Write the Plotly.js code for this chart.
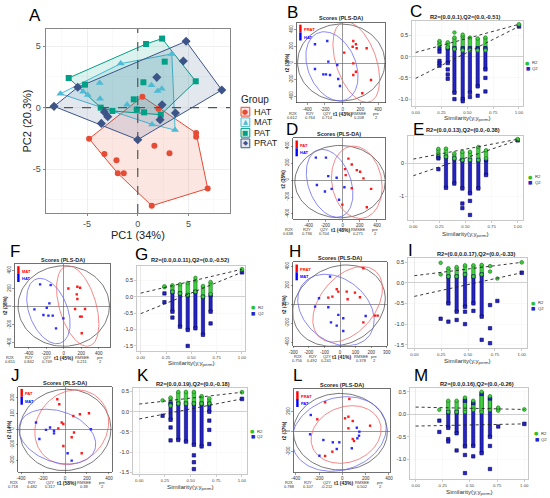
<!DOCTYPE html>
<html><head><meta charset="utf-8">
<script src="https://cdn.plot.ly/plotly-3.0.1.min.js"></script>
<style>html,body{margin:0;padding:0;background:#fff}#chart{width:550px;height:498px}</style>
</head><body><div id="chart"></div>
<script>
// ================= DATA =================
// Panel A – PCA scores
const groupNames = ['HAT','MAT','PAT','PRAT'];
const hatX  = [0.46,-4.8,-3.29,-2.1,-1.97,-1.38,1.64,3.13,5.76,5.76,6.9,1.38,2.04];
const hatY  = [0.9,-2.53,-3.78,-4.29,-5.35,-5.35,-3.1,-3.72,-2.07,-2.36,-6.58,-7.99,-0.08];
const matX  = [-7.63,-5.39,-4.93,-3.75,-3.72,-1.68,-1.05,1.35,1.97,2.37,3.36,3.68,1.41,-0.07];
const matY  = [1.14,1.3,1.03,2.01,0.73,3.59,0.24,1.82,1.36,1.55,4.38,-1.82,-1.36,-0.05];
const patX  = [-6.81,-5.2,-3.65,-2.5,-0.39,-0.1,0.63,0.56,0.82,2.4,2.66,5.72,2.27];
const patY  = [2.42,1.88,0,-0.27,0.68,-0.16,-0.38,2.07,5.19,5.63,3.75,2.15,-0.57];
const pratX = [-8.26,-5.92,-3.59,-3.29,-2.96,0,1.88,2.4,2.2,3.72,4.5,4.77,8.29];
const pratY = [0.11,1.66,-1.28,-0.35,-0.73,-2.61,2.47,0.24,-0.98,-0.43,3.8,5.41,1.44];
const pcaTicks = [-5,0,5];

// PLS-DA score panels (red group / blue group), ellipses [cx,cy,topDx,topDy,halfChord]
const bRedX=[120,150,113,158,271,18,120,150,120,320,222], bRedY=[263,224,195,176,176,124,-4,-104,-144,-204,-363];
const bBlueX=[-313,-174,-162,-61,-313,-219,-189,-143,-50,-31], bBlueY=[224,263,16,-24,-72,-136,-136,-144,-192,-275];
const bEll=[[-16,6,0,461,494],[154,12,-116,483,237],[-121,-40,-87,414,282]];
const bStats=['0.612','0.764','0.714','0.208','2'], bPct=[43,38], bGroups=['PRAT','HAT'];

const dRedX=[67,106,27,165,204,243,35,106,333,-4,282], dRedY=[252,182,128,116,97,19,58,-97,-104,-290,-321];
const dBlueX=[-314,-196,-169,-71,-302,-208,-129,-43,20], dBlueY=[263,263,46,27,-58,-135,-104,-232,-85];
const dEll=[[-31,-19,0,426,529],[165,-27,-39,426,294],[-153,-39,-86,399,259]];
const dStats=['0.638','0.736','0.704','0.271','2'], dPct=[48,35], dGroups=['PAT','HAT'];

const fRedX=[53,156,187,149,156,130,244,187,206,206], fRedY=[202,221,210,136,85,-26,-26,-110,-110,-294];
const fBlueX=[-270,-149,-164,-194,-335,-232,-175,-126,-4,-88], fBlueY=[247,239,37,-11,-29,-92,-99,-99,-129,-239];
const fEll=[[0,7,0,445,522],[160,7,-107,445,217],[-175,-48,-95,361,229]];
const fStats=['0.651','0.842','0.749','0.211','2'], fPct=[45,38], fGroups=['MAT','HAT'];

const hRedX=[150,-21,-11,43,96,128,-75,-49,49,225,242,150], hRedY=[379,158,133,133,123,74,70,81,53,-119,-119,-190];
const hBlueX=[-64,-135,-160,-75,-11,21,165,-58,-21,21], hBlueY=[291,63,-25,-32,-112,-147,-123,-190,-225,-281];
const hEll=[[-6,-14,49,428,293],[49,0,94,397,203],[-26,-60,-71,376,235]];
const hStats=['0.756','0.492','0.241','0.378','2'], hPct=[41,35], hGroups=['PRAT','MAT'];

const jRedX=[-70,-52,76,136,218,-30,-15,-61,82,61,-15,152], jRedY=[192,160,85,96,102,43,34,6,-21,-51,-107,-153];
const jBlueX=[-264,-173,-136,-100,-100,-233,236,24,61], jBlueY=[43,-4,11,-9,-26,-62,0,-153,-200];
const jEll=[[3,-4,12,260,415],[61,13,45,239,333],[-70,-47,-97,175,336]];
const jStats=['0.718','0.482','0.317','0.38','2'], jPct=[58,14], jGroups=['PAT','MAT'];

const lRedX=[-148,60,-215,23,52,89,238,52,89,100,-86,-148], lRedY=[294,327,124,134,150,107,60,34,-73,-93,-200,-243];
const lBlueX=[-271,124,146,143,129,-277,-163,-82,-26,-48,-197,81], lBlueY=[167,40,0,-40,-66,-26,-83,-106,-106,-173,-240,-166];
const lEll=[[-17,0,0,383,403],[32,-28,52,288,296],[-28,-23,66,373,399]];
const lStats=['0.788','0.107','-0.212','0.502','2'], lPct=[43,37], lGroups=['PRAT','PAT'];

// Permutation panels
const cSim=[0.23,0.31,0.375,0.455,0.525,0.6,0.675];
const cR2Lo=[0.28,0.22,0.18,0.15,0.15,0.15,0.15], cR2Hi=[0.37,0.34,0.45,0.48,0.45,0.43,0.45];
const cR2ExX=[0.375,0.455], cR2ExY=[0.57,0.52];
const cQ2Lo=[null,-0.15,-0.85,-1.0,-0.85,-0.7,-0.3], cQ2Hi=[null,0.2,0.2,0.2,0.2,0.2,0.2];
const cQ2ExX=[0.23,0.23,0.23,0.23,0.23,0.31,0.31,0.31,0.375,0.455,0.525,0.6,0.675,0.675];
const cQ2ExY=[0.2,0.12,-0.1,-0.16,-0.21,-0.3,-0.42,-0.52,-1.0,-1.05,-0.95,-0.92,-0.5,-0.82];
const cFinal=[0.764,0.714], cInt=[0.1,-0.51];

const eSim=[0.24,0.313,0.393,0.47,0.543,0.623,0.697];
const eR2Lo=[0.28,0.2,0.15,0.1,0.1,0.1,0.15], eR2Hi=[0.44,0.45,0.3,0.35,0.35,0.5,0.4];
const eR2ExX=[], eR2ExY=[];
const eQ2Lo=[null,-0.75,-0.62,-0.77,-0.92,-0.77,-0.36], eQ2Hi=[null,0.2,0.15,0.1,0.1,0.1,0.1];
const eQ2ExX=[0.24,0.24,0.24,0.47,0.47,0.543,0.543], eQ2ExY=[0.2,0.15,-0.18,-1.23,-1.37,-1.15,-1.58];
const eFinal=[0.736,0.704], eInt=[0.13,-0.38];

const gSim=[0.234,0.313,0.388,0.464,0.54,0.615,0.69];
const gR2Lo=[0.29,0.15,0.1,0.05,0.15,0.0,0.08], gR2Hi=[0.32,0.35,0.38,0.42,0.5,0.33,0.45];
const gR2ExX=[0.54], gR2ExY=[0.58];
const gQ2Lo=[null,-0.46,-0.92,-1.02,-0.97,-1.17,-0.46], gQ2Hi=[null,0.15,0.1,0.05,0.15,0.0,0.05];
const gQ2ExX=[0.234,0.234,0.313,0.464,0.69], gQ2ExY=[0.1,-0.17,-0.64,-1.51,-0.82];
const gFinal=[0.842,0.749], gInt=[0.11,-0.52];

const iSim=[0.245,0.317,0.394,0.472,0.55,0.627,0.705,0.773];
const iR2Lo=[null,0.15,0.15,0.2,0.15,0.2,null,null], iR2Hi=[null,0.35,0.38,0.42,0.42,0.43,null,null];
const iR2ExX=[0.245,0.245,0.705,0.705,0.773], iR2ExY=[0.48,0.2,0.4,0.27,0.1];
const iQ2Lo=[null,-0.5,-0.7,-0.58,-0.5,-0.82,null,null], iQ2Hi=[null,0.15,0.15,0.2,0.15,0.2,null,null];
const iQ2ExX=[0.245,0.317,0.394,0.472,0.472,0.55,0.627,0.705,0.705,0.705,0.773];
const iQ2ExY=[-0.87,-0.94,-0.9,-0.7,-1.0,-0.68,-1.38,-0.54,-1.1,-1.46,-0.44];
const iFinal=[0.492,0.241], iInt=[0.17,-0.33];

const kSim=[0.227,0.305,0.38,0.455,0.532,0.607,0.682];
const kR2Lo=[null,0.15,0.2,0.2,0.2,0.2,0.2], kR2Hi=[null,0.35,0.49,0.49,0.49,0.385,0.33];
const kR2ExX=[0.227], kR2ExY=[0.28];
const kQ2Lo=[null,-0.2,-0.7,-0.74,-0.82,-0.86,0.0], kQ2Hi=[null,0.2,0.2,0.2,0.2,0.2,0.2];
const kQ2ExX=[0.227,0.305,0.305,0.532,0.532,0.532,0.682,0.682,0.682], kQ2ExY=[-0.1,-0.39,-0.71,-1.08,-1.25,-1.42,-0.22,-0.45,-0.8];
const kFinal=[0.482,0.317], kInt=[0.19,-0.18];

const mSim=[0.218,0.3,0.377,0.454,0.53,0.607,0.684,0.76];
const mR2Lo=[null,0.05,0.05,0.05,0.1,0.05,0.1,0.08], mR2Hi=[null,0.3,0.3,0.37,0.3,0.5,0.4,0.15];
const mR2ExX=[0.218], mR2ExY=[0.1];
const mQ2Lo=[null,-0.3,-0.42,-0.71,-0.7,-0.86,-0.5,null], mQ2Hi=[null,0.05,0.05,0.3,0.25,0.45,0.35,null];
const mQ2ExX=[0.218,0.218,0.3,0.3,0.377,0.454,0.454,0.53,0.684,0.684,0.76], mQ2ExY=[-0.14,-0.39,-0.55,-0.6,-0.8,-0.9,-1.3,-0.93,-0.7,-1.21,-0.27];
const mFinal=[0.107,-0.212], mInt=[0.16,-0.26];

// ================= BUILD =================
const W=550,H=498;
const F='Liberation Sans, Arial, Helvetica, sans-serif';
const layout={width:W,height:H,margin:{l:0,r:0,t:0,b:0},paper_bgcolor:'#fff',plot_bgcolor:'#fff',
  showlegend:false,barmode:'overlay',font:{family:F,size:6,color:'#222'}};
const data=[],shapes=[],annotations=[];
let nAx=0;
function addAxes(box,xr,yr,xo,yo){
  nAx++; const s=nAx===1?'':String(nAx);
  layout['xaxis'+s]=Object.assign({domain:[box[0]/W,box[1]/W],range:xr,anchor:'y'+s,fixedrange:true},xo);
  layout['yaxis'+s]=Object.assign({domain:[1-box[3]/H,1-box[2]/H],range:yr,anchor:'x'+s,fixedrange:true},yo);
  return {x:'x'+s,y:'y'+s};
}
function T(x,y,text,size,o){
  o=o||{};
  const font=Object.assign({family:F,size:size,color:'#222'},o.font||{});
  if(o.bold){font.weight='bold';}
  const a=Object.assign({xref:'paper',yref:'paper',x:x/W,y:1-y/H,text:text,showarrow:false,
    xanchor:'center',yanchor:'middle',borderpad:0},o);
  delete a.bold; a.font=font;
  annotations.push(a);
}
function letter(x,y,t){T(x,y,t,17,{font:{color:'#000'}});}

// ---------- Panel A ----------
const COLS={HAT:'#E64B35',MAT:'#4DBBD5',PAT:'#00A087',PRAT:'#3C5488'};
const FILLS={HAT:'rgba(230,75,53,0.14)',MAT:'rgba(77,187,213,0.14)',PAT:'rgba(0,160,135,0.14)',PRAT:'rgba(60,84,136,0.14)'};
const SYMS={HAT:'circle',MAT:'triangle-up',PAT:'square',PRAT:'diamond'};
const GLYPH={HAT:'●',MAT:'▲',PAT:'■',PRAT:'◆'};
function hull(xs,ys){
  const p=xs.map((x,i)=>[x,ys[i]]).sort((a,b)=>a[0]-b[0]||a[1]-b[1]);
  const cr=(o,a,b)=>(a[0]-o[0])*(b[1]-o[1])-(a[1]-o[1])*(b[0]-o[0]);
  const lo=[],up=[];
  for(const q of p){while(lo.length>=2&&cr(lo[lo.length-2],lo[lo.length-1],q)<=0)lo.pop();lo.push(q);}
  for(const q of p.slice().reverse()){while(up.length>=2&&cr(up[up.length-2],up[up.length-1],q)<=0)up.pop();up.push(q);}
  lo.pop();up.pop();const h=lo.concat(up);h.push(h[0]);return h;
}
const boxA=[46,230,29,213];
const axA=addAxes(boxA,[-9.05,9.1],[-8.58,6.41],
  {tickmode:'array',tickvals:pcaTicks,ticktext:pcaTicks.map(String),showgrid:true,gridcolor:'#ebebeb',gridwidth:0.8,
   minor:{tickmode:'array',tickvals:[-7.5,-2.5,2.5,7.5],showgrid:true,gridcolor:'#f5f5f5',gridwidth:0.6},
   zeroline:false,showline:true,mirror:true,linecolor:'#7a7a7a',linewidth:0.9,ticks:'outside',ticklen:2.5,tickwidth:0.8,tickcolor:'#666',
   tickfont:{family:F,size:9,color:'#4d4d4d'}},
  {tickmode:'array',tickvals:pcaTicks,ticktext:pcaTicks.map(String),showgrid:true,gridcolor:'#ebebeb',gridwidth:0.8,
   minor:{tickmode:'array',tickvals:[-7.5,-2.5,2.5],showgrid:true,gridcolor:'#f5f5f5',gridwidth:0.6},
   zeroline:false,showline:true,mirror:true,linecolor:'#7a7a7a',linewidth:0.9,ticks:'outside',ticklen:2.5,tickwidth:0.8,tickcolor:'#666',
   tickfont:{family:F,size:9,color:'#4d4d4d'}});
const pcaSets={HAT:[hatX,hatY],MAT:[matX,matY],PAT:[patX,patY],PRAT:[pratX,pratY]};
groupNames.forEach(g=>{
  const h=hull(pcaSets[g][0],pcaSets[g][1]);
  data.push({type:'scatter',mode:'lines',x:h.map(p=>p[0]),y:h.map(p=>p[1]),fill:'toself',fillcolor:FILLS[g],
    line:{color:COLS[g],width:1},xaxis:axA.x,yaxis:axA.y,hoverinfo:'skip'});
});
shapes.push({type:'line',xref:axA.x,yref:axA.y+' domain',x0:0,x1:0,y0:0,y1:1,line:{color:'#555',width:1.2,dash:'dash'}});
shapes.push({type:'line',xref:axA.x+' domain',yref:axA.y,x0:0,x1:1,y0:0,y1:0,line:{color:'#555',width:1.2,dash:'dash'}});
groupNames.forEach(g=>{
  data.push({type:'scatter',mode:'markers',x:pcaSets[g][0],y:pcaSets[g][1],xaxis:axA.x,yaxis:axA.y,
    marker:{color:COLS[g],symbol:SYMS[g],size:g==='HAT'||g==='PAT'?6:7,line:{width:0}},name:g});
});
letter(35,15,'A');
T(138,235,'PC1 (34%)',11);
T(26.5,121,'PC2 (20.3%)',11,{textangle:-90});
T(240,99,'Group',10,{xanchor:'left'});
groupNames.forEach((g,i)=>{
  const cy=111.7+i*10.55;
  shapes.push({type:'rect',xref:'paper',yref:'paper',x0:241/W,x1:249.8/W,y0:1-(cy+4.4)/H,y1:1-(cy-4.4)/H,
    fillcolor:FILLS[g],line:{color:COLS[g],width:1}});
  T(245.4,cy,GLYPH[g],g==='HAT'?7:6.5,{font:{family:'DejaVu Sans',color:COLS[g]}});
  T(252.5,cy,g,9,{xanchor:'left'});
});

// ---------- PLS-DA score panels ----------
function ellipse(ax,e,color){
  const xs=[],ys=[];
  for(let i=0;i<=120;i++){const t=2*Math.PI*i/120;xs.push(e[0]+e[2]*Math.cos(t)+e[4]*Math.sin(t));ys.push(e[1]+e[3]*Math.cos(t));}
  data.push({type:'scatter',mode:'lines',x:xs,y:ys,xaxis:ax.x,yaxis:ax.y,line:{color:color,width:0.8},hoverinfo:'skip'});
}
function pls(p){
  const axo={showline:true,mirror:true,linecolor:'#333',linewidth:0.7,showgrid:false,zeroline:true,zerolinecolor:'#555',zerolinewidth:0.6,
    ticks:'outside',ticklen:2,tickwidth:0.5,tickcolor:'#333',tickfont:{family:F,size:4.5,color:'#333'},tickmode:'array'};
  const ax=addAxes(p.box,p.xr,p.yr,Object.assign({},axo,{tickvals:p.xt,ticktext:p.xt.map(String)}),
    Object.assign({},axo,{tickvals:p.yt,ticktext:p.yt.map(String),tickangle:-90}));
  ellipse(ax,p.ell[0],'#555');
  ellipse(ax,p.ell[1],'#f36a6a');
  ellipse(ax,p.ell[2],'#6a6af3');
  data.push({type:'scatter',mode:'markers',x:p.rx,y:p.ry,xaxis:ax.x,yaxis:ax.y,marker:{symbol:'square',size:2.4,color:'#ff1a1a'}});
  data.push({type:'scatter',mode:'markers',x:p.bx,y:p.by,xaxis:ax.x,yaxis:ax.y,marker:{symbol:'square',size:2.4,color:'#2a2aff'}});
  const b=p.box, wd=b[1]-b[0];
  shapes.push({type:'rect',xref:'paper',yref:'paper',x0:(b[0]+2.2)/W,x1:(b[0]+4.6)/W,y0:1-(b[2]+10)/H,y1:1-(b[2]+2.2)/H,fillcolor:'#ff0000',line:{width:0}});
  shapes.push({type:'rect',xref:'paper',yref:'paper',x0:(b[0]+2.2)/W,x1:(b[0]+4.6)/W,y0:1-(b[2]+18)/H,y1:1-(b[2]+10)/H,fillcolor:'#0000ff',line:{width:0}});
  T(b[0]+5.5,b[2]+7,p.groups[0],4,{xanchor:'left',bold:true,font:{color:'#ff0000'}});
  T(b[0]+5.5,b[2]+14.5,p.groups[1],4,{xanchor:'left',bold:true,font:{color:'#0000ff'}});
  T((b[0]+b[1])/2,b[2]-4.2,'Scores (PLS-DA)',5.5,{bold:true});
  T(b[0]-9.5,(b[2]+b[3])/2,'t2 ('+p.pct[1]+'%)',4.8,{textangle:-90,bold:true});
  const fr=p.fr||[-0.05,0.15,0.34,0.52,0.71,0.9];
  const names=['R2X','R2Y','Q2Y',null,'RMSEE','pre'];
  const vals=[p.stats[0],p.stats[1],p.stats[2],null,p.stats[3],p.stats[4]];
  names.forEach((n,i)=>{
    const x=b[0]+fr[i]*wd;
    if(n===null){T(x,b[3]+11.2,'t1 ('+p.pct[0]+'%)',5,{bold:true});}
    else{T(x,b[3]+10.8,n,4,{font:{color:'#333'}});T(x,b[3]+14.8,vals[i],4,{font:{color:'#333'}});}
  });
  letter(p.letter[0],p.letter[1],p.letter[2]);
}
const t400=[-400,-200,0,200,400];
pls({box:[297,385.5,22.5,102.5],xr:[-516,484],yr:[-473,485],xt:t400,yt:t400,rx:bRedX,ry:bRedY,bx:bBlueX,by:bBlueY,ell:bEll,stats:bStats,pct:bPct,groups:bGroups,letter:[292,13,'B']});
pls({box:[293.3,385,138.3,219],xr:[-578,495],yr:[-459,491],xt:t400,yt:t400,rx:dRedX,ry:dRedY,bx:dBlueX,by:dBlueY,ell:dEll,stats:dStats,pct:dPct,groups:dGroups,letter:[292,129.5,'D']});
pls({box:[15,110,264,346.7],xr:[-557,529],yr:[-442,472],xt:t400,yt:t400,rx:fRedX,ry:fRedY,bx:fBlueX,by:fBlueY,ell:fEll,stats:fStats,pct:fPct,groups:fGroups,letter:[15,252,'F']});
pls({box:[293.3,386.7,262.3,345.7],xr:[-300,300],yr:[-436,442],xt:[-300,-200,-100,0,100,200,300],yt:t400,rx:hRedX,ry:hRedY,bx:hBlueX,by:hBlueY,ell:hEll,stats:hStats,pct:hPct,groups:hGroups,fr:[0.05,0.21,0.36,0.52,0.725,0.87],letter:[295,252,'H']});
pls({box:[18.3,111.7,386.7,471.7],xr:[-425,425],yr:[-271,272],xt:t400,yt:[-200,-100,0,100,200],rx:jRedX,ry:jRedY,bx:jBlueX,by:jBlueY,ell:jEll,stats:jStats,pct:jPct,groups:jGroups,letter:[15,375,'J']});
pls({box:[294,390,389,472],xr:[-415,409],yr:[-403,427],xt:t400,yt:[-200,0,200],rx:lRedX,ry:lRedY,bx:lBlueX,by:lBlueY,ell:lEll,stats:lStats,pct:lPct,groups:lGroups,letter:[297,375,'L']});

// ---------- Permutation panels ----------
const GREEN='#3fd23f',DGREEN='#1b6e1b',BLUE='#2424c8',NAVY='#00005a';
function perm(p){
  const b=p.box, ppu=(b[1]-b[0])/(p.xr[1]-p.xr[0]);
  const axo={showline:true,mirror:true,linecolor:'#b0b0b0',linewidth:0.7,showgrid:true,gridcolor:'#f3f3f3',gridwidth:0.5,
    ticks:'outside',ticklen:2,tickwidth:0.5,tickcolor:'#999',tickmode:'array'};
  const xt=[0,0.25,0.5,0.75,1];
  const ax=addAxes(b,p.xr,p.yr,
    Object.assign({},axo,{tickvals:xt,ticktext:xt.map(v=>v.toFixed(2)),zeroline:true,zerolinecolor:'#dcdcdc',zerolinewidth:0.6,tickfont:{family:F,size:4.3,color:'#444'}}),
    Object.assign({},axo,{tickvals:p.yt,ticktext:p.ytt,zeroline:true,zerolinecolor:'#c4c4c4',zerolinewidth:0.8,tickfont:{family:F,size:5.6,color:'#333'}}));
  function column(lo,hi,exX,exY,fill,edge,sym,size,wpx){
    const bx=[],bb=[],bh=[],ex=[],ey=[];
    p.sim.forEach((x,i)=>{if(lo[i]!=null){bx.push(x);bb.push(lo[i]);bh.push(hi[i]-lo[i]);ex.push(x,x);ey.push(lo[i],hi[i]);}});
    data.push({type:'bar',x:bx,y:bh,base:bb,width:wpx/ppu,xaxis:ax.x,yaxis:ax.y,marker:{color:fill,line:{color:edge,width:0.6}},hoverinfo:'skip'});
    data.push({type:'scatter',mode:'markers',x:ex.concat(exX),y:ey.concat(exY),xaxis:ax.x,yaxis:ax.y,
      marker:{symbol:sym,size:size,color:fill,line:{color:edge,width:0.6}}});
  }
  column(p.q2Lo,p.q2Hi,p.q2ExX,p.q2ExY,BLUE,NAVY,'square',3.4,3.2);
  column(p.r2Lo,p.r2Hi,p.r2ExX,p.r2ExY,GREEN,DGREEN,'circle',3.6,3.4);
  data.push({type:'scatter',mode:'markers',x:[1],y:[p.fin[1]],xaxis:ax.x,yaxis:ax.y,marker:{symbol:'square',size:3.6,color:BLUE,line:{color:NAVY,width:0.6}}});
  data.push({type:'scatter',mode:'markers',x:[1],y:[p.fin[0]],xaxis:ax.x,yaxis:ax.y,marker:{symbol:'circle',size:3.8,color:GREEN,line:{color:DGREEN,width:0.6}}});
  data.push({type:'scatter',mode:'lines',x:[0,1],y:[p.int[0],p.fin[0]],xaxis:ax.x,yaxis:ax.y,line:{color:'#222',width:0.9,dash:'dot'}});
  data.push({type:'scatter',mode:'lines',x:[0,1],y:[p.int[1],p.fin[1]],xaxis:ax.x,yaxis:ax.y,line:{color:'#222',width:0.9,dash:'dot'}});
  T(p.tx!=null?p.tx:(b[0]+b[1])/2,p.ty,p.title,5.7,{bold:true});
  T((b[0]+b[1])/2,p.xl+1.4,'Similarity(y,y<sub>perm</sub>)',6.2,{font:{color:'#333'}});
  T(p.leg[0],p.leg[1],'●',5,{font:{family:'DejaVu Sans',color:'#2fc02f'}});
  T(p.leg[0],p.leg[1]+5.8,'■',4.6,{font:{family:'DejaVu Sans',color:BLUE}});
  T(p.leg[0]+3.5,p.leg[1],'R2',4.2,{xanchor:'left',font:{color:'#333'}});
  T(p.leg[0]+3.5,p.leg[1]+5.8,'Q2',4.2,{xanchor:'left',font:{color:'#333'}});
  letter(p.letter[0],p.letter[1],p.letter[2]);
}
const yt5=[-1.5,-1,-0.5,0,0.5], yt4=[-1,-0.5,0,0.5];
perm({box:[412,523,21,106],xr:[-0.036,1.039],yr:[-1.163,0.842],yt:yt4,ytt:yt4.map(v=>v.toFixed(1)),sim:cSim,r2Lo:cR2Lo,r2Hi:cR2Hi,r2ExX:cR2ExX,r2ExY:cR2ExY,q2Lo:cQ2Lo,q2Hi:cQ2Hi,q2ExX:cQ2ExX,q2ExY:cQ2ExY,fin:cFinal,int:cInt,
  title:'R2=(0.0,0.1),Q2=(0.0,-0.51)',ty:17,tx:465,xl:116.7,leg:[527.7,62.7],letter:[416,12,'C']});
perm({box:[408,523,136,220],xr:[-0.051,1.051],yr:[-1.734,0.835],yt:[-1,0],ytt:['-1','0'],sim:eSim,r2Lo:eR2Lo,r2Hi:eR2Hi,r2ExX:eR2ExX,r2ExY:eR2ExY,q2Lo:eQ2Lo,q2Hi:eQ2Hi,q2ExX:eQ2ExX,q2ExY:eQ2ExY,fin:eFinal,int:eInt,
  title:'R2=(0.0,0.13),Q2=(0.0,-0.38)',ty:130,tx:463.3,xl:232.3,leg:[530,176.7],letter:[418,129.5,'E']});
perm({box:[137,245,266,351],xr:[-0.037,1.03],yr:[-1.666,0.942],yt:yt5,ytt:yt5.map(v=>v.toFixed(1)),sim:gSim,r2Lo:gR2Lo,r2Hi:gR2Hi,r2ExX:gR2ExX,r2ExY:gR2ExY,q2Lo:gQ2Lo,q2Hi:gQ2Hi,q2ExX:gQ2ExX,q2ExY:gQ2ExY,fin:gFinal,int:gInt,
  title:'R2=(0.0,0.0.11),Q2=(0.0,-0.52)',ty:260,tx:190,xl:361.7,leg:[253.3,307.3],letter:[141,254,'G']});
perm({box:[408,527,258,348],xr:[-0.059,1.049],yr:[-1.577,0.597],yt:yt5,ytt:yt5.map(v=>v.toFixed(1)),sim:iSim,r2Lo:iR2Lo,r2Hi:iR2Hi,r2ExX:iR2ExX,r2ExY:iR2ExY,q2Lo:iQ2Lo,q2Hi:iQ2Hi,q2ExX:iQ2ExX,q2ExY:iQ2ExY,fin:iFinal,int:iInt,
  title:'R2=(0.0,0.0.17),Q2=(0.0,-0.33)',ty:254.3,tx:476.7,xl:359.5,leg:[533.3,302.7],letter:[410,250,'I']});
perm({box:[133,247,388,474],xr:[-0.061,1.049],yr:[-1.542,0.587],yt:yt5,ytt:yt5.map(v=>v.toFixed(1)),sim:kSim,r2Lo:kR2Lo,r2Hi:kR2Hi,r2ExX:kR2ExX,r2ExY:kR2ExY,q2Lo:kQ2Lo,q2Hi:kQ2Hi,q2ExX:kQ2ExX,q2ExY:kQ2ExY,fin:kFinal,int:kInt,
  title:'R2=(0.0,0.19),Q2=(0.0,-0.18)',ty:384,tx:193.3,xl:486,leg:[252.7,431],letter:[143,375,'K']});
perm({box:[410,528,388,479],xr:[-0.052,1.034],yr:[-1.431,0.582],yt:yt4,ytt:yt4.map(v=>v.toFixed(1)),sim:mSim,r2Lo:mR2Lo,r2Hi:mR2Hi,r2ExX:mR2ExX,r2ExY:mR2ExY,q2Lo:mQ2Lo,q2Hi:mQ2Hi,q2ExX:mQ2ExX,q2ExY:mQ2ExY,fin:mFinal,int:mInt,
  title:'R2=(0.0,0.16),Q2=(0.0,-0.26)',ty:384,tx:476.7,xl:490.5,leg:[536.7,433.3],letter:[421,375,'M']});

layout.shapes=shapes; layout.annotations=annotations;
Plotly.newPlot('chart',data,layout,{displayModeBar:false,staticPlot:true});
</script></body></html>
